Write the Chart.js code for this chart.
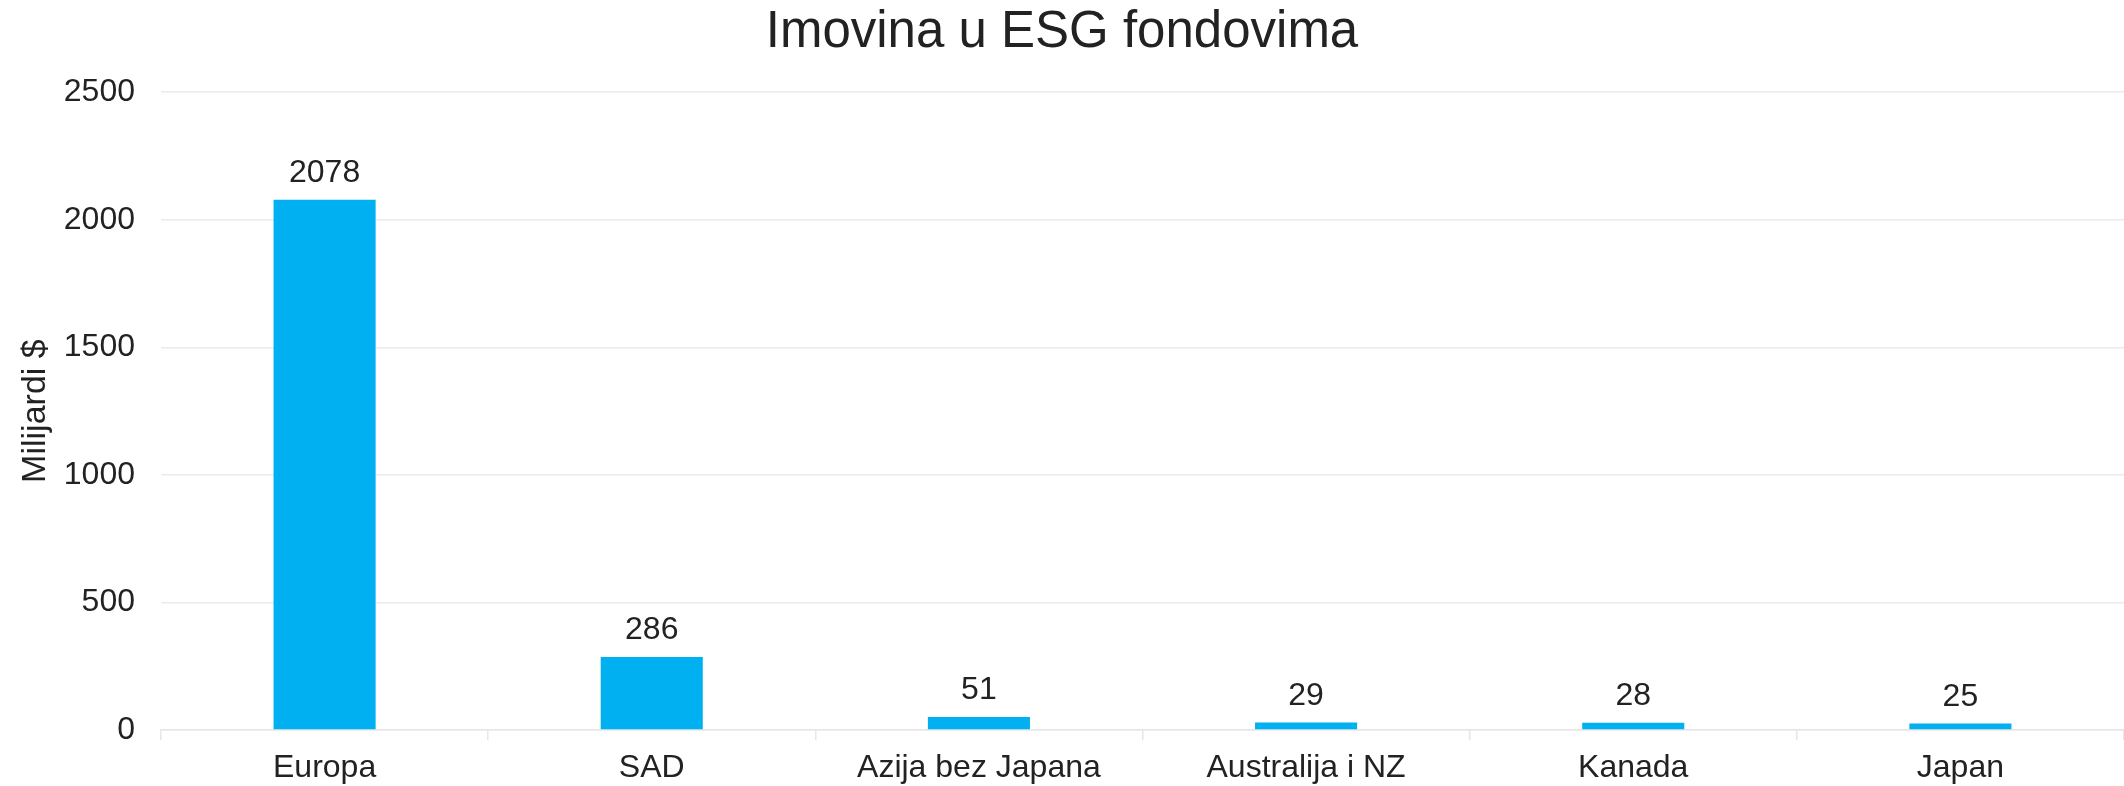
<!DOCTYPE html>
<html>
<head>
<meta charset="utf-8">
<script src="https://cdn.jsdelivr.net/npm/chart.js@4/dist/chart.umd.min.js"></script>
<style>
  html, body { margin: 0; padding: 0; background: #ffffff; }
  #wrap { width: 2124px; height: 786px; position: relative; }
</style>
</head>
<body>
<div id="wrap"><canvas id="c"></canvas></div>
<script>
const categories = ["Europa", "SAD", "Azija bez Japana", "Australija i NZ", "Kanada", "Japan"];
const assets = [2078, 286, 51, 29, 28, 25];
const yTicks = [0, 500, 1000, 1500, 2000, 2500];
const chartTitle = "Imovina u ESG fondovima";
const yAxisTitle = "Milijardi $";

const TEXT = '#222222';
const FONT = '"Liberation Sans", Arial, sans-serif';

const valueLabels = {
  id: 'valueLabels',
  afterDatasetsDraw(chart) {
    const ctx = chart.ctx;
    const meta = chart.getDatasetMeta(0);
    ctx.save();
    ctx.font = '32px ' + FONT;
    ctx.fillStyle = TEXT;
    ctx.textAlign = 'center';
    ctx.textBaseline = 'alphabetic';
    meta.data.forEach((bar, i) => {
      ctx.fillText(String(chart.data.datasets[0].data[i]), bar.x, bar.y - 18);
    });
    ctx.restore();
  }
};

new Chart(document.getElementById('c'), {
  type: 'bar',
  data: {
    labels: categories,
    datasets: [{
      data: assets,
      backgroundColor: '#00b0f0',
      borderWidth: 0,
      barPercentage: 0.312,
      categoryPercentage: 1
    }]
  },
  options: {
    responsive: true,
    maintainAspectRatio: false,
    animation: false,
    devicePixelRatio: 1,
    layout: { padding: { left: 0, right: 0, top: 0, bottom: 0 } },
    plugins: {
      legend: { display: false },
      tooltip: { enabled: false },
      title: {
        display: true,
        text: chartTitle,
        color: TEXT,
        font: { family: FONT, size: 51, weight: 'normal', lineHeight: 1.2 },
        padding: { top: 2, bottom: 29 }
      }
    },
    scales: {
      x: {
        offset: true,
        grid: {
          display: true,
          drawOnChartArea: false,
          drawTicks: true,
          tickLength: 10,
          offset: true,
          color: '#e6e6e6',
          lineWidth: 1.5
        },
        border: { display: true, color: '#e6e6e6', width: 1.5 },
        ticks: {
          color: TEXT,
          font: { family: FONT, size: 32 },
          padding: 9,
          maxRotation: 0,
          autoSkip: false
        },
        afterFit(scale) { scale.height = 56; }
      },
      y: {
        min: yTicks[0],
        max: yTicks[yTicks.length - 1],
        afterBuildTicks(scale) { scale.ticks = yTicks.map(v => ({ value: v })); },
        grid: { color: '#ebebeb', lineWidth: 1.5, drawTicks: false },
        border: { display: false },
        ticks: {
          color: TEXT,
          font: { family: FONT, size: 32 },
          padding: 26,
          callback: (v) => String(v)
        },
        title: {
          display: true,
          text: yAxisTitle,
          color: TEXT,
          font: { family: FONT, size: 34, lineHeight: 1.2 },
          padding: { top: 15, bottom: 0 }
        },
        afterFit(scale) { scale.width = 161; }
      }
    }
  },
  plugins: [valueLabels]
});
</script>
</body>
</html>
